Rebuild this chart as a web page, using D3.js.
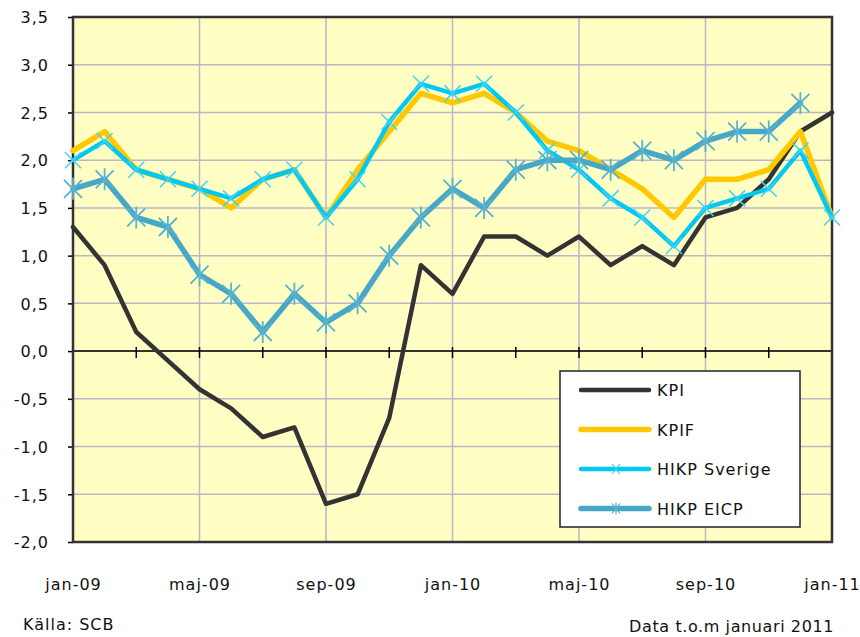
<!DOCTYPE html>
<html><head><meta charset="utf-8">
<script src="https://cdn.jsdelivr.net/npm/d3@7"></script>
<style>html,body{margin:0;padding:0;background:#fff}</style>
</head><body>
<svg id="c" width="860" height="637"></svg>
<script>
const months = ["jan-09","feb-09","mar-09","apr-09","maj-09","jun-09","jul-09","aug-09","sep-09","okt-09","nov-09","dec-09",
  "jan-10","feb-10","mar-10","apr-10","maj-10","jun-10","jul-10","aug-10","sep-10","okt-10","nov-10","dec-10","jan-11"];
const tickLabels = ["jan-09","maj-09","sep-09","jan-10","maj-10","sep-10","jan-11"];
const yTicks = [3.5,3.0,2.5,2.0,1.5,1.0,0.5,0.0,-0.5,-1.0,-1.5,-2.0];
const kpi   = [1.3,0.9,0.2,-0.1,-0.4,-0.6,-0.9,-0.8,-1.6,-1.5,-0.7,0.9,0.6,1.2,1.2,1.0,1.2,0.9,1.1,0.9,1.4,1.5,1.8,2.3,2.5];
const kpif  = [2.1,2.3,1.9,1.8,1.7,1.5,1.8,1.9,1.4,1.9,2.3,2.7,2.6,2.7,2.5,2.2,2.1,1.9,1.7,1.4,1.8,1.8,1.9,2.3,1.4];
const hikpSe= [2.0,2.2,1.9,1.8,1.7,1.6,1.8,1.9,1.4,1.8,2.4,2.8,2.7,2.8,2.5,2.1,1.9,1.6,1.4,1.1,1.5,1.6,1.7,2.1,1.4];
const hikpEu= [1.7,1.8,1.4,1.3,0.8,0.6,0.2,0.6,0.3,0.5,1.0,1.4,1.7,1.5,1.9,2.0,2.0,1.9,2.1,2.0,2.2,2.3,2.3,2.6,null];
const seriesNames = ["KPI","KPIF","HIKP Sverige","HIKP EICP"];

const svg = d3.select("#c");
const L=73, R=832, T=17, B=542;
const font = "'DejaVu Sans', Verdana, sans-serif";
const x = d3.scalePoint().domain(months).range([L,R]);
const y = d3.scaleLinear().domain([-2,3.5]).range([B,T]);

svg.append("rect").attr("x",L).attr("y",T).attr("width",R-L).attr("height",B-T).attr("fill","#ffffc4");

// gridlines
const grid = svg.append("g");
yTicks.forEach(v=>{
  grid.append("line").attr("x1",L).attr("x2",R).attr("y1",y(v)).attr("y2",y(v))
    .attr("stroke","#bdb6c6").attr("stroke-width",1.5);
});
tickLabels.forEach(m=>{
  grid.append("line").attr("x1",x(m)).attr("x2",x(m)).attr("y1",T).attr("y2",B)
    .attr("stroke","#bdb6c6").attr("stroke-width",1.5);
});

// zero axis with ticks every 2 months
svg.append("line").attr("x1",L).attr("x2",R).attr("y1",y(0)).attr("y2",y(0)).attr("stroke","#000").attr("stroke-width",1.5);
months.forEach((m,i)=>{ if(i%2===0 && i>0) svg.append("line").attr("x1",x(m)).attr("x2",x(m)).attr("y1",y(0)-4).attr("y2",y(0)+7).attr("stroke","#000").attr("stroke-width",1.5); });

// y axis
const yAxis = d3.axisLeft(y).tickValues(yTicks).tickSize(5).tickFormat(d=>d3.format(".1f")(d).replace(".",",").replace("−","-"));
const ya = svg.append("g").attr("transform",`translate(${L},0)`).call(yAxis);
ya.select(".domain").remove();
ya.selectAll(".tick line").attr("stroke","#000").attr("stroke-width",1.5);
ya.selectAll(".tick text").attr("font-family",font).attr("font-size",16).attr("fill","#111")
  .attr("x",-24).attr("dy","0.36em").attr("letter-spacing",1);

// x axis labels
const xAxis = d3.axisBottom(x).tickValues(tickLabels).tickSize(0);
const xa = svg.append("g").attr("transform",`translate(0,${B})`).call(xAxis);
xa.select(".domain").remove();
xa.selectAll(".tick text").attr("font-family",font).attr("font-size",16).attr("fill","#111")
  .attr("y",48).attr("dy",0).attr("letter-spacing",1);

// plot border
svg.append("rect").attr("x",L).attr("y",T).attr("width",R-L).attr("height",B-T).attr("fill","none").attr("stroke","#333").attr("stroke-width",2.5);

const line = d3.line().defined(d=>d!=null).x((d,i)=>x(months[i])).y(d=>y(d));
const data = [
  {v:kpi, c:"#333333", w:4.5},
  {v:kpif, c:"#ffc800", w:5.5},
  {v:hikpSe, c:"#00c8f4", w:4.5, mk:"x", mc:"#40d4f4"},
  {v:hikpEu, c:"#46a8c6", w:5.5, mk:"ast", mc:"#58b2d0"}
];
const plot = svg.append("g");
function marker(g,cx,cy,type,col){
  if(type==="x"){
    const s=8;
    g.append("path").attr("d",`M${cx-s},${cy-s}L${cx+s},${cy+s}M${cx-s},${cy+s}L${cx+s},${cy-s}`).attr("stroke",col).attr("stroke-width",1.5).attr("fill","none");
  } else {
    const s=9;
    g.append("path").attr("d",`M${cx-s},${cy-s}L${cx+s},${cy+s}M${cx-s},${cy+s}L${cx+s},${cy-s}M${cx},${cy-11}L${cx},${cy+11}`).attr("stroke",col).attr("stroke-width",1.8).attr("fill","none");
  }
}
data.forEach(s=>{
  plot.append("path").attr("d",line(s.v)).attr("fill","none").attr("stroke",s.c).attr("stroke-width",s.w)
    .attr("stroke-linejoin","round").attr("stroke-linecap","round");
  if(s.mk){
    s.v.forEach((d,i)=>{ if(d!=null) marker(plot,x(months[i]),y(d),s.mk,s.mc); });
  }
});

// legend
const lg = svg.append("g");
lg.append("rect").attr("x",560).attr("y",371).attr("width",240).attr("height",156).attr("fill","#fff").attr("stroke","#222").attr("stroke-width",1.5);
seriesNames.forEach((n,i)=>{
  const ly = 390 + i*39.5;
  const s = data[i];
  lg.append("line").attr("x1",581).attr("x2",649).attr("y1",ly).attr("y2",ly).attr("stroke",s.c).attr("stroke-width",s.w).attr("stroke-linecap","round");
  if(s.mk==="x"){ lg.append("path").attr("d",`M612,${ly-5}L620,${ly+5}M612,${ly+5}L620,${ly-5}`).attr("stroke",s.mc).attr("stroke-width",1.2); }
  if(s.mk==="ast"){ lg.append("path").attr("d",`M612,${ly-5}L620,${ly+5}M612,${ly+5}L620,${ly-5}M616,${ly-6}L616,${ly+6}`).attr("stroke",s.mc).attr("stroke-width",1.2); }
  lg.append("text").attr("x",657).attr("y",ly+6).attr("font-family",font).attr("font-size",16).attr("letter-spacing",1).attr("fill","#111").text(n);
});

svg.append("text").attr("x",23).attr("y",630).attr("font-family",font).attr("font-size",16).attr("letter-spacing",1).attr("fill","#111").text("Källa: SCB");
svg.append("text").attr("x",834).attr("y",632).attr("text-anchor","end").attr("font-family",font).attr("font-size",16).attr("letter-spacing",0.6).attr("fill","#111").text("Data t.o.m januari 2011");
</script>
</body></html>
